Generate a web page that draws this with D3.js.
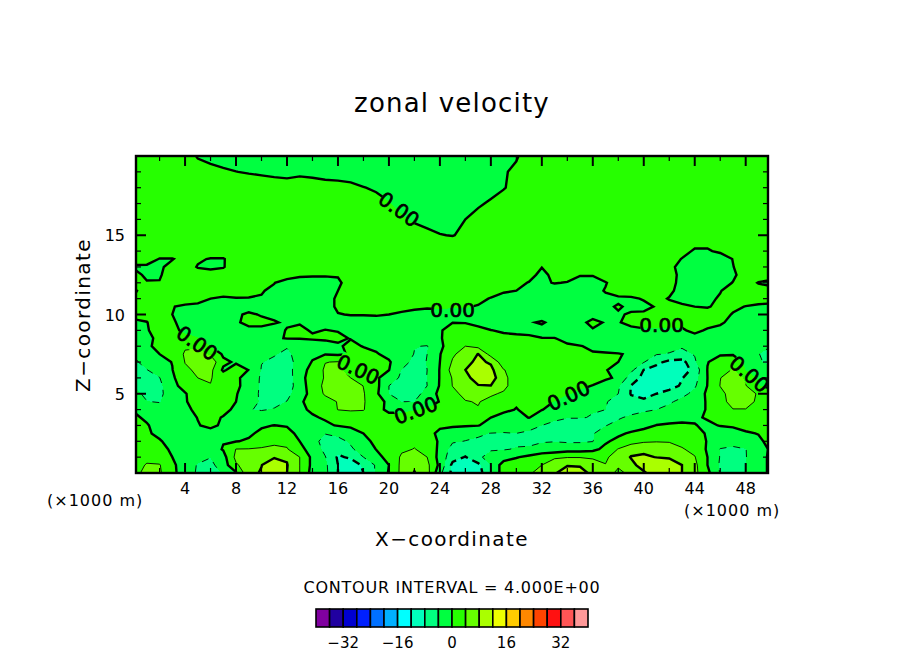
<!DOCTYPE html>
<html>
<head>
<meta charset="utf-8">
<script src="https://cdn.jsdelivr.net/npm/d3@7"></script>
<style>
  html, body { margin: 0; padding: 0; background: #fff; }
  text { font-family: "DejaVu Sans", sans-serif; fill: #000; }
</style>
</head>
<body>
<script>
// levels of the field: x in km (one column per km), z in km (finer low down)
var xLevels = [0,1,2,3,4,5,6,7,8,9,10,11,12,13,14,15,16,17,18,19,20,21,22,23,24,25,26,27,28,29,30,31,32,33,34,35,36,37,38,39,40,41,42,43,44,45,46,47,48,49,50];
var zLevels = [0,0.5,1,1.5,2,2.5,3,3.5,4,4.5,5,5.5,6,6.5,7,7.5,8,8.5,9,9.5,10,10.5,11,11.5,12,12.5,13,13.5,14,15,16,17,18,19,20];

// zonal velocity, first row is z=0
var velocity = [
[3,5,4.5,1,-2,-4.5,-6,-3.5,-0.5,7, 8.3,11,8,4,-1.5,-3,-8,-10.5,-8,-3.5, 0.3,5,8.2,5.5,-3,-9,-11.5,-10,-4,2, 2.8,3.5,5.5,7.7,9.5,9.5,7,5,3.5,4.5, 7.5,10,10,8,5,1,-4.3,-5,-4,-1, 0.5],
[2.5,4.3,4.2,1,-2.5,-4.2,-5,-2,3.5,6, 7.9,10.5,8.2,4,-1,-3.2,-8,-10,-7.5,-3.5, 0,5,7.3,5,-1,-9,-11,-9,-4,2, 2.5,3,4,6,7.8,7.6,6,4.1,4.3,7, 9.5,11,10.5,8,5,0,-4.5,-5.3,-4,-1, 0.5],
[2,3,2.5,0,-1.5,-3,-3.9,-1.5,5,6.5, 7.2,7.7,7.6,4,-1,-3.8,-8.5,-7.5,-4,-1.5, 1.5,4.5,6,4,-1.5,-6.5,-8.2,-5,-2,-2, -0.3,1,2.8,3.5,3.8,3.8,3.4,3.5,5.5,8.2, 8.5,7.9,7.5,6,4.2,0,-4.2,-5,-4.2,-1, 0.5],
[1.5,1.5,1,-0.5,-1,-2,-2,0.3,4.1,4.2, 4.5,5,4.3,1,-1.5,-5,-7,-4.5,-2.5,0.1, 2,3.5,4.1,3.2,-1,-5.5,-6,-4.5,-4.5,-4.2, -3.8,-3.7,-3,-2.5,-1.5,-1.5,-1,1,4.2,6.5, 7.2,6.5,6,4.3,3,-0.5,-4.2,-4.8,-4.1,-1.5, 0.5],
[1,0.8,0.2,-0.8,-1,-1.5,-1,-0.2,-0.1,0.3, 2,3,3,0,-3,-5,-5,-3.5,-1,0.8, 2,3,3.5,2,-0.5,-3.6,-4.1,-4.5,-5,-4.8, -4.5,-4.5,-4.2,-4.1,-4.5,-4.5,-4.1,-0.5,1,2.5, 3.5,3.8,3.7,3,1.8,-0.2,-1.5,-2.5,-1.5,-0.5, 0.8],
[0.8,0.3,-0.5,-1,-1.2,-1,-0.7,-0.8,-0.8,-0.4, 0.5,1.5,1,-0.8,-2,-3.9,-3.2,-1.8,0,1, 1.8,2.5,2.5,1.2,-0.8,-2,-2.8,-3.5,-4.1,-4.3, -4,-4.5,-5,-5,-5,-4.8,-4.3,-2,-0.7,0.5, 1.5,2,2.2,2,1,-0.3,-1.2,-1.5,-0.3,0.1, 0.3],
[0.5,0.1,-0.5,-0.8,-0.7,-0.1,0.4,-0.3,-0.8,-0.7, -0.3,0.05,-0.2,-1,-1.2,-0.5,0.2,0.7,1.2,1.5, 1.8,1.8,1.6,1,0.6,0.5,0.3,0.1,-0.8,-1.5, -2.3,-3,-4,-4.6,-5,-5,-4.5,-4.1,-3.2,-2, -1.2,0.1,0.3,0.3,0.1,-0.4,0.1,0.5,0.8,0.8, 1],
[0.2,-0.2,-0.8,-1,-0.6,0.05,0.8,-0.2,-1.8,-3.6, -2.5,-1.5,-1,-0.5,-0.3,0.3,1,1.5,2.2,2.5, 1.5,1.5,2,2,1.8,2,2.5,2,0,-0.8, -1,0.1,-1.5,-3.5,-3.9,-3.9,-4.1,-4.2,-4.3,-3.5, -2.5,-1.5,-0.9,-0.5,-0.3,0.2,1,1.5,1.8,1.8, 1.8],
[-0.1,-1.5,-2.5,-1.5,-0.5,0.5,1.5,0.8,-0.6,-3.9, -4.2,-3.8,-2.5,-0.5,0.4,1.5,4.1,4.5,4.2,1.5, -1,-1,-0.2,0.5,1.2,2.5,3.5,3.8,2.5,0.5, -0.1,0.6,0.1,-1,-2,-3,-3.9,-4,-4.5,-5, -4.6,-4,-3,-2,-1,0.2,2.5,3.9,3.9,2.8, 2.8],
[-1,-3.9,-4.2,-2,-0.2,1,2,1.8,0,-3, -4.3,-4.8,-3.9,-0.4,1,2.5,4.2,5.5,4.3,1.8, -1,-4,-4,-2,0.2,1.5,3.8,4.2,3,1, 0.3,1,1,-0.1,-1,-2,-3,-3.9,-4.5,-7, -7.5,-6,-4.5,-3,-1.5,0.3,3,5,5,3.5, 2],
[-3,-4.8,-4.7,-2.3,-0.2,1.5,2.5,2.5,0.3,-2.5, -4.5,-5.5,-5,-2,1.5,4.5,5.5,6,4.3,0.8, -4,-5,-5.5,-2.5,1,3,5,6,4.5,3.5, 1,1.5,1.5,1,0.2,-0.5,-1.5,-3,-4,-8.2, -8.8,-8,-6.5,-5,-3,0.8,3,5.5,6,3.5, 2],
[-4,-5,-5,-0.8,1,2.5,3.9,3,1,-2, -4.5,-6,-6,-2,2,4.8,6,6.5,3.9,1.2, -4,-5.5,-6,-4,0.3,4.1,6,7.8,7.9,5, 2,1.5,1.8,1.5,1,0.5,-0.1,-1.5,-3.5,-8.1, -8.5,-9.5,-9.5,-7.5,-4.5,0.1,4.1,6,4.2,0.2, -1],
[-4.5,-5,-4.1,-0.3,1.2,4,4.2,2.5,0.7,-1.5, -4.5,-6,-6,-1.5,2,4.3,6,4,2.5,0.8, -2.5,-4.5,-6,-3.9,0.2,4.3,7,9.5,10,5, 2,1.8,2,2,1.5,1.2,1.2,0.5,-0.5,-6, -9,-10,-10.5,-8.2,-5.5,0,3.9,6,3.5,-0.5, -1.5],
[-5,-4.1,-2.5,-0.1,3.5,4.5,5,-0.6,2,-0.1, -4.2,-5.5,-5.5,-2,1.5,4.5,4.5,3,2,1, 0.1,-4.1,-6,-4,0.2,5.5,8,11,9,4.2, 2.2,1.8,2,2.3,2,1.8,1.6,0.2,-1.2,-3, -8.1,-9.5,-11,-10.5,-6.5,0.1,1.5,4.5,0,-1.5, -3],
[-4.5,-3,-1,0.1,4.1,6,6.5,0.8,-0.5,-1.5, -3.9,-4.5,-5,-3,0.3,3.9,4.2,2.3,1.5,1, 0.4,-2.5,-5,-3.9,0,4.4,7,8.8,7.5,1.5, 1.3,1.3,1.5,1.8,1.8,1.5,1,0.5,0,-1.5, -3.8,-7,-9,-9.5,-4.5,-0.1,1,3.9,-1.2,-3.5, -5],
[-3.8,-1.5,0,1,4.5,5.2,3.5,-0.6,-1,-1.5, -2.5,-3.8,-4.5,-3,-1,-0.2,-0.5,0.3,0.7,0.3, -1,-1,-4.2,-4,-0.2,3.5,5.5,8.1,2.5,1, 0.8,0.7,0.7,0.6,0.4,0.4,0.1,0.1,0.05,-0.1, -2,-3.8,-4.2,-4.8,-3.8,0,-0.2,-0.5,-1,-3.9, -5],
[-2.5,-0.5,0.8,1.5,3.5,3.5,-0.1,-0.5,-1,-1.2, -1.5,-2.5,-3.8,-3,-1.5,-0.8,-0.3,0.5,-0.1,-0.7, -1,-1.5,-3.8,-4.2,-0.3,0.8,4,3,1,0.7, 0.5,0.4,0.4,0.3,0.1,0.05,-0.2,-0.4,-0.5,-0.8, -1,-1.5,-3,-3.7,-3,-1.5,-1,-0.7,-1,-2.5, -4],
[-1.5,-0.5,0.5,1,0.8,0.1,-0.5,-0.8,-1,-1, -1,-0.5,0.2,0.2,0.3,0.3,0.4,-0.1,-0.6,-0.7, -0.8,-0.9,-1,-1.2,-0.1,0.5,1,0.8,0.5,0.2, 0.1,0.1,0.02,0.02,-0.2,-0.6,-0.5,-0.6,-0.5,-0.6, -0.5,-0.8,-1.5,-1.5,-0.3,-1,-0.8,-0.7,-0.9,-2, -3],
[-0.7,-0.2,1,0.6,-0.5,-0.7,-0.7,-0.1,-0.6,-0.1, -0.3,-0.6,0.1,0.4,-0.2,0.05,-0.1,-0.5,-0.5,-0.5, -0.5,-0.5,-0.6,-0.5,-0.1,0.4,0.5,0.3,0.02,-0.1, -0.1,-0.15,-0.3,-0.4,-0.4,-0.2,-0.1,-0.2,-0.2,-0.2, -0.1,-0.1,-0.1,-0.1,0.2,-0.1,-0.2,-0.4,-0.5,-1, -1.5],
[-0.2,-0.05,0.8,0.2,-0.5,-0.6,-0.5,-0.4,-0.05,0.1, 0.3,0.1,-0.2,-0.15,-0.4,-0.5,-0.5,-0.5,-0.5,-0.5, -0.5,-0.5,-0.5,-0.5,-0.3,-0.02,-0.05,-0.3,-0.4,-0.5, -0.4,-0.1,0.1,-0.3,-0.4,-0.3,0.3,-0.1,-0.05,0.2, 0.3,0.3,0.3,0.2,0.3,0.3,0.1,-0.2,-0.3,-0.5, -1],
[0.3,0.5,0.6,0,-0.3,-0.3,-0.3,-0.3,-0.2,0.2, -0.1,-0.3,-0.5,-0.5,-0.6,-0.6,-0.05,0.05,0.05,0.1, 0,-0.1,-0.3,-0.3,-0.2,-0.2,-0.2,-0.3,-0.5,-0.6, -0.7,-0.6,-0.5,-0.3,-0.5,-0.2,-0.4,-0.3,-0.1,0.1, 0.2,0.3,0.5,0.5,0.6,0.6,0.5,-0.1,-0.2,-0.3, -0.4],
[0.8,0.8,0.8,0.05,-0.2,-0.2,-0.3,-0.5,-0.5,-0.5, -0.5,-0.7,-0.8,-0.8,-0.8,-0.5,0.2,0.4,0.4,0.4, 0.3,0.2,0.2,0.1,0.1,0.05,0.05,-0.05,-0.3,-0.5, -0.7,-0.7,-0.6,-0.6,-0.6,-0.5,-0.4,-0.2,0.1,-0.2, -0.3,0.1,0.5,0.3,0,-0.1,0.3,0.3,-0.05,-0.2, -0.2],
[0.2,1,1,0.9,0.6,0.3,0,-0.1,-0.05,-0.05, -0.1,-0.2,-0.7,-0.9,-1,-0.5,0.2,0.8,0.8,0.8, 0.8,0.6,0.5,0.5,0.5,0.5,0.3,0.2,-0.05,-0.3, -0.6,-0.8,-0.8,-0.8,-0.8,-0.7,-0.5,-0.3,-0.2,-0.2, 0.1,0.5,-0.1,-0.6,-0.7,-0.4,0.2,0.8,0.8,0.5, 0.3],
[-0.3,1,1.3,1.3,1.1,1,0.7,0.3,0.4,0.3, 0.1,-0.3,-1,-1.2,-1.2,-1,0,1,1.2,1.2, 1.2,1,1,1,0.9,0.9,0.7,0.6,0.3,0.1, 0,-0.6,-1,-1,-1,-0.8,-0.5,0.1,0.5,0.7, 0.8,0.9,0.4,-0.7,-1,-1.1,-0.1,0.9,0.7,0.8, 0.7],
[0.8,0.2,0.1,1,1.3,1.4,1.3,1.1,1,0.9, 0.6,0.05,-0.8,-1.4,-1.5,-1.3,-0.4,1,1.3,1.4, 1.5,1.5,1.4,1.3,1.3,1.2,1.1,1,0.8,0.6, 0.5,-0.1,-0.3,0.1,-0.1,-0.7,-0.6,-0.1,0.8,1, 1.1,1.1,0.9,-0.8,-1.3,-1.4,-1.1,0.1,1,-0.1, -0.5],
[0.8,-0.5,-0.2,1,1.5,1.4,1.5,1.5,1.5,1.5, 1.4,1.1,0.9,0.5,0.4,0.3,0.2,0.8,1.5,1.6, 1.7,1.7,1.7,1.6,1.6,1.5,1.4,1.3,1.2,1, 0.9,0.6,-0.5,0.5,0.8,0.1,0.1,0.9,1.4,1.5, 1.5,1.4,1,-0.7,-1.6,-1.8,-1.7,-0.5,1.3,1, 0.9],
[-0.3,-0.4,-0.3,0.6,1.5,-0.2,-0.7,-0.2,1.7,1.8, 1.8,1.8,1.8,1.8,1.8,1.8,1.8,1.9,1.9,1.9, 2,2,2,2,1.9,1.9,1.8,1.7,1.6,1.5, 1.4,1,0.05,1.2,1.6,1.8,1.8,1.8,1.8,1.8, 1.8,1.5,0.8,-1,-2,-2.3,-2.2,-0.1,1.5,1.3, 1.1],
[1,1,-0.1,-0.1,0.8,0.4,-0.2,-0.2,1.5,2, 2,2,2,2,2,2,2,2,2,2, 2,2,2,2,2,2,2,2,2,2, 2,2,2,2,2,2,2,2,2,2, 2,2,1,-0.1,-1.3,-1.7,-1.6,0.1,1.5,1.5, 1.3],
[1.2,1.2,1.3,1.5,1.8,1.8,1.8,1.8,1.8,1.8, 2,2,2,2,2,2,2,2,2,2, 2,2,2,2,2,2,2,2,2,2, 2,2,2,2,2,2,2,2,2,2, 2,1.8,1.5,0.8,-0.3,-0.3,0.5,1.2,1.5,1.5, 1.3],
[1.2,1.2,1.3,1.4,1.5,1.5,1.5,1.5,1.5,1.5, 1.5,1.5,1.5,1.5,1.5,1.5,1.5,1.5,1.5,1.5, 1.4,1.2,1,0.6,0.1,-0.1,0.5,1,1.3,1.5, 1.5,1.5,1.5,1.5,1.5,1.5,1.5,1.5,1.5,1.5, 1.5,1.5,1.5,1.5,1.5,1.5,1.5,1.5,1.5,1.5, 1.2],
[1.2,1.2,1.3,1.3,1.3,1.3,1.3,1.3,1.3,1.3, 1.3,1.3,1.3,1.3,1.3,1.2,1.2,1.1,1,0.9, 0.8,0.2,-0.3,-0.8,-1,-0.5,0,0.5,1,1.2, 1.3,1.3,1.3,1.3,1.3,1.3,1.3,1.3,1.3,1.3, 1.3,1.3,1.3,1.3,1.3,1.3,1.3,1.3,1.3,1.3, 1.2],
[1.1,1.1,1.1,1.1,1.1,1.1,1.1,1.1,1.1,1.1, 1.1,1,1,1,0.9,0.9,0.8,0.7,0.6,0.5, 0.1,-0.4,-0.8,-1.2,-1.4,-1.2,-0.8,-0.2,0.2,0.7, 1,1.1,1.1,1.1,1.1,1.1,1.1,1.1,1.1,1.1, 1.1,1.1,1.1,1.1,1.1,1.1,1.1,1.1,1.1,1.1, 1.1],
[1,1,1,1,1,1,1,1,0.9,0.8, 0.7,0.6,0.5,0.5,0.5,0.4,0.4,0.3,0.05,-0.2, -0.6,-1,-1.3,-1.5,-1.6,-1.5,-1.2,-0.9,-0.5,-0.1, 0.5,0.8,1,1,1,1,1,1,1,1, 1,1,1,1,1,1,1,1,1,1, 1],
[0.8,0.8,0.8,0.7,0.6,0.5,0.4,0.2,0.02,-0.1, -0.2,-0.3,-0.35,-0.2,-0.3,-0.4,-0.5,-0.6,-0.8,-1, -1.2,-1.4,-1.5,-1.6,-1.8,-1.7,-1.5,-1.2,-0.7,-0.1, 0.2,0.6,0.8,0.8,0.8,0.8,0.8,0.8,0.8,0.8, 0.8,0.8,0.8,0.8,0.8,0.8,0.8,0.8,0.8,0.8, 0.8],
[0.8,0.8,0.8,0.7,0.6,-0.1,-0.4,-0.6,-0.7,-0.8, -0.8,-0.9,-1,-1,-1.1,-1.2,-1.3,-1.4,-1.5,-1.6, -1.7,-1.8,-1.9,-2,-2,-1.9,-1.6,-1.2,-0.8,-0.5, -0.1,0.5,0.7,0.7,0.7,0.7,0.7,0.7,0.7,0.7, 0.7,0.7,0.7,0.7,0.7,0.7,0.7,0.7,0.7,0.7, 0.7]
];

// lower edge of every colour band, and its colour
var bandLevels = [-40,-36,-32,-28,-24,-20,-16,-12,-8,-4,0,4,8,12,16,20,24,28,32,36];
var bandColors = ["#8000a0","#2000a0","#0000d0","#0020ff","#0070ff","#00b0ff","#00ffff","#00ffbb","#00ff80","#00ff40","#26ff00","#66ff00","#aaff00","#eeff00","#ffcc00","#ff8800","#ff4400","#ff1111","#ff5555","#ff9999"];

var xTicks = [4,8,12,16,20,24,28,32,36,40,44,48];
var xMinorTicks = [2,6,10,14,18,22,26,30,34,38,42,46];
var zTicks = [5,10,15];
var zMinorTicks = [1,2,3,4,6,7,8,9,11,12,13,14,16,17,18,19];
var legendTicks = [-32,-16,0,16,32];

// where the 0.00 labels sit on the zero line: x, z, angle
var labelX = [20.8,25.0,4.95,17.6,22.1,34.1,41.4,48.3];
var labelZ = [16.65,10.3,8.2,6.55,3.97,4.9,9.35,6.25];
var labelAngle = [36,0,35,25,-20,-25,0,40];

var svg = d3.select("body").append("svg")
    .attr("width", 904)
    .attr("height", 654)
    .style("display", "block");

var xScale = d3.scaleLinear().domain([0.15, 49.75]).range([136, 768]);
var zScale = d3.scaleLinear().domain([0, 20]).range([473, 156]);

// grid index to data value, z rows are not evenly spaced
var colToX = d3.scaleLinear().domain(d3.range(xLevels.length)).range(xLevels);
var rowToZ = d3.scaleLinear().domain(d3.range(zLevels.length)).range(zLevels);

var toPixels = d3.geoTransform({
    point: function(cx, cy) {
        this.stream.point(xScale(colToX(cx - 0.5)), zScale(rowToZ(cy - 0.5)));
    }
});
var path = d3.geoPath(toPixels);

var contours = d3.contours()
    .size([xLevels.length, zLevels.length])
    .thresholds(bandLevels)(velocity.flat());

var defs = svg.append("defs");
defs.append("clipPath").attr("id", "plot-clip")
    .append("rect")
    .attr("x", 136).attr("y", 156).attr("width", 632).attr("height", 317);

// gaps in the contour lines below the labels
var mask = defs.append("mask").attr("id", "label-gaps")
    .attr("maskUnits", "userSpaceOnUse")
    .attr("x", 0).attr("y", 0).attr("width", 904).attr("height", 654);
mask.append("rect").attr("width", 904).attr("height", 654).attr("fill", "#fff");
labelX.forEach(function(d, i) {
    mask.append("rect")
        .attr("x", -21).attr("y", -10).attr("width", 42).attr("height", 20)
        .attr("fill", "#000")
        .attr("transform", "translate(" + xScale(d) + "," + zScale(labelZ[i]) + ") rotate(" + labelAngle[i] + ")");
});

var plot = svg.append("g").attr("clip-path", "url(#plot-clip)");

plot.selectAll("path.band")
    .data(contours)
    .enter()
    .append("path")
    .attr("class", "band")
    .attr("d", path)
    .attr("fill", function(d, i) { return bandColors[i]; })
    .attr("shape-rendering", "crispEdges");

var lines = plot.append("g").attr("mask", "url(#label-gaps)");
lines.selectAll("path.line")
    .data(contours)
    .enter()
    .append("path")
    .attr("class", "line")
    .attr("d", path)
    .attr("fill", "none")
    .attr("stroke", "#000")
    .attr("stroke-width", function(d) {
        return d.value % 8 === 0 ? 2.4 : 0.9;
    })
    .attr("stroke-dasharray", function(d) {
        if (d.value >= 0) {
            return null;
        }
        return d.value % 8 === 0 ? "8,5" : "7,7";
    });

svg.selectAll("text.zero")
    .data(labelX)
    .enter()
    .append("text")
    .attr("class", "zero")
    .attr("transform", function(d, i) {
        return "translate(" + xScale(d) + "," + zScale(labelZ[i]) + ") rotate(" + labelAngle[i] + ")";
    })
    .attr("text-anchor", "middle")
    .attr("dy", "0.37em")
    .style("font-size", "20px")
    .style("stroke", "#000")
    .style("stroke-width", "0.7px")
    .text("0.00");

// frame and inward ticks on all four sides
svg.append("rect")
    .attr("x", 136).attr("y", 156).attr("width", 632).attr("height", 317)
    .attr("fill", "none").attr("stroke", "#000").attr("stroke-width", 2.4);

function tickLines(values, scale, horizontal, base, len) {
    svg.append("g").selectAll("line")
        .data(values)
        .enter()
        .append("line")
        .attr("x1", function(d) { return horizontal ? scale(d) : base; })
        .attr("x2", function(d) { return horizontal ? scale(d) : base + len; })
        .attr("y1", function(d) { return horizontal ? base : scale(d); })
        .attr("y2", function(d) { return horizontal ? base + len : scale(d); })
        .attr("stroke", "#000")
        .attr("stroke-width", len > 5 || len < -5 ? 2 : 1.2);
}
tickLines(xTicks, xScale, true, 473, -10);
tickLines(xMinorTicks, xScale, true, 473, -5);
tickLines(xTicks, xScale, true, 156, 10);
tickLines(xMinorTicks, xScale, true, 156, 5);
tickLines(zTicks, zScale, false, 136, 10);
tickLines(zMinorTicks, zScale, false, 136, 5);
tickLines(zTicks, zScale, false, 768, -10);
tickLines(zMinorTicks, zScale, false, 768, -5);

svg.append("g").selectAll("text")
    .data(xTicks)
    .enter()
    .append("text")
    .attr("x", function(d) { return xScale(d); })
    .attr("y", 494)
    .attr("text-anchor", "middle")
    .style("font-size", "16px")
    .text(function(d) { return d; });

svg.append("g").selectAll("text")
    .data(zTicks)
    .enter()
    .append("text")
    .attr("x", 125)
    .attr("y", function(d) { return zScale(d) + 6; })
    .attr("text-anchor", "end")
    .style("font-size", "16px")
    .text(function(d) { return d; });

svg.append("text").attr("x", 47).attr("y", 506)
    .style("font-size", "16px").style("letter-spacing", "1px").text("(×1000 m)");
svg.append("text").attr("x", 684).attr("y", 516)
    .style("font-size", "16px").style("letter-spacing", "1px").text("(×1000 m)");

svg.append("text").attr("x", 452).attr("y", 112)
    .attr("text-anchor", "middle")
    .style("font-size", "26px").style("letter-spacing", "1.2px").text("zonal velocity");

svg.append("text").attr("x", 452).attr("y", 546)
    .attr("text-anchor", "middle")
    .style("font-size", "20px").style("letter-spacing", "1.4px").text("X−coordinate");

svg.append("text")
    .attr("transform", "translate(90,315) rotate(-90)")
    .attr("text-anchor", "middle")
    .style("font-size", "20px").style("letter-spacing", "1.4px").text("Z−coordinate");

svg.append("text").attr("x", 452).attr("y", 593)
    .attr("text-anchor", "middle")
    .style("font-size", "16px").style("letter-spacing", "0.75px").text("CONTOUR INTERVAL = 4.000E+00");

// colour key
var legendX = d3.scaleLinear().domain([-40, 40]).range([316, 588]);
svg.append("g").selectAll("rect")
    .data(bandLevels)
    .enter()
    .append("rect")
    .attr("x", function(d) { return legendX(d); })
    .attr("y", 609)
    .attr("width", function(d) { return legendX(d + 4) - legendX(d); })
    .attr("height", 18)
    .attr("fill", function(d, i) { return bandColors[i]; })
    .attr("stroke", "#000")
    .attr("stroke-width", 1.6);

svg.append("g").selectAll("text")
    .data(legendTicks)
    .enter()
    .append("text")
    .attr("x", function(d) { return legendX(d); })
    .attr("y", 648)
    .attr("text-anchor", "middle")
    .style("font-size", "15px")
    .text(function(d) { return d < 0 ? "−" + Math.abs(d) : d; });
</script>
</body>
</html>
